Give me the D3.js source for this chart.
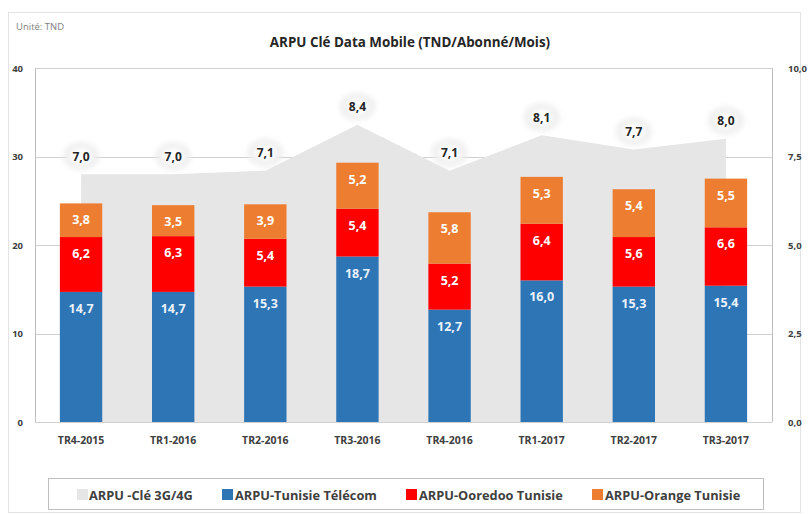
<!DOCTYPE html>
<html>
<head>
<meta charset="utf-8">
<script src="https://cdn.jsdelivr.net/npm/d3@7/dist/d3.min.js"></script>
<style>
  html, body { margin: 0; padding: 0; background: #ffffff; }
  svg { display: block; }
  text { font-family: "Open Sans", Lato, sans-serif; }
</style>
</head>
<body>
<svg id="chart" width="809" height="514"></svg>
<script>
const categories = ["TR4-2015", "TR1-2016", "TR2-2016", "TR3-2016", "TR4-2016", "TR1-2017", "TR2-2017", "TR3-2017"];
const arpuCle = [7.0, 7.0, 7.1, 8.4, 7.1, 8.1, 7.7, 8.0];
const tunisieTelecom = [14.7, 14.7, 15.3, 18.7, 12.7, 16.0, 15.3, 15.4];
const ooredoo = [6.2, 6.3, 5.4, 5.4, 5.2, 6.4, 5.6, 6.6];
const orange = [3.8, 3.5, 3.9, 5.2, 5.8, 5.3, 5.4, 5.5];
const leftTicks = [0, 10, 20, 30, 40];
const rightTicks = [0, 2.5, 5, 7.5, 10];
const seriesNames = ["ARPU -Clé 3G/4G", "ARPU-Tunisie Télécom", "ARPU-Ooredoo Tunisie", "ARPU-Orange Tunisie"];
const title = "ARPU Clé Data Mobile (TND/Abonné/Mois)";
const unitLabel = "Unité: TND";

const colors = { area: "#e6e6e6", tt: "#2e75b6", oo: "#ff0000", or: "#ed7d31" };
const fmt = v => d3.format(".1f")(v).replace(".", ",");

const svg = d3.select("#chart");
const margin = { left: 35, right: 772, top: 68, bottom: 422 };

const defs = svg.append("defs");
const f = defs.append("filter").attr("id", "soft").attr("x", "-50%").attr("y", "-50%").attr("width", "200%").attr("height", "200%");
f.append("feGaussianBlur").attr("stdDeviation", 3);

svg.append("rect").attr("x", 8.5).attr("y", 12.5).attr("width", 792).attr("height", 500)
  .attr("fill", "none").attr("stroke", "#e3e3e3");

svg.append("text").attr("x", 16).attr("y", 30).attr("font-size", 9.5).attr("fill", "#808080").text(unitLabel);
svg.append("text").attr("x", 410).attr("y", 47).attr("text-anchor", "middle")
  .attr("font-size", 13.4).attr("font-weight", "bold").attr("fill", "#262626").text(title);

const x = d3.scaleBand().domain(categories).range([margin.left, margin.right])
  .paddingInner(0.54).paddingOuter(0.27);
const y = d3.scaleLinear().domain([0, 40]).range([margin.bottom, margin.top]);
const y2 = d3.scaleLinear().domain([0, 10]).range([margin.bottom, margin.top]);

svg.append("g").selectAll("line").data(leftTicks).join("line")
  .attr("x1", margin.left).attr("x2", margin.right)
  .attr("y1", d => Math.round(y(d)) + 0.5).attr("y2", d => Math.round(y(d)) + 0.5)
  .attr("stroke", "#d0d0d0").attr("stroke-width", 1);

const cx = d => x(d) + x.bandwidth() / 2;
const area = d3.area()
  .x((d, i) => cx(categories[i]))
  .y0(y2(0)).y1(d => y2(d));
svg.append("path").datum(arpuCle).attr("d", area).attr("fill", colors.area);

svg.append("line").attr("x1", margin.left + 0.5).attr("x2", margin.left + 0.5)
  .attr("y1", margin.top).attr("y2", margin.bottom).attr("stroke", "#bfbfbf");
svg.append("line").attr("x1", margin.right + 0.5).attr("x2", margin.right + 0.5)
  .attr("y1", margin.top).attr("y2", margin.bottom).attr("stroke", "#bfbfbf");

const rows = categories.map((c, i) => ({ cat: c, tt: tunisieTelecom[i], oo: ooredoo[i], or: orange[i] }));
const keys = ["tt", "oo", "or"];
const stack = d3.stack().keys(keys)(rows);
const gBars = svg.append("g");
stack.forEach(layer => {
  gBars.append("g").attr("fill", colors[layer.key]).selectAll("rect").data(layer).join("rect")
    .attr("x", d => x(d.data.cat)).attr("width", x.bandwidth())
    .attr("y", d => y(d[1])).attr("height", d => y(d[0]) - y(d[1]));
});
stack.forEach(layer => {
  gBars.append("g").selectAll("text").data(layer).join("text")
    .attr("x", d => cx(d.data.cat)).attr("y", d => y(d[1]) + 21)
    .attr("text-anchor", "middle").attr("font-size", 12.5).attr("font-weight", "bold")
    .attr("fill", layer.key === "tt" ? "#eaf2fb" : "#ffffff")
    .text(d => fmt(d.data[layer.key]));
});

const gLab = svg.append("g");
gLab.selectAll("ellipse").data(arpuCle).join("ellipse")
  .attr("cx", (d, i) => cx(categories[i])).attr("cy", d => y2(d) - 18)
  .attr("rx", 17).attr("ry", 13).attr("fill", "#e9e9e9").attr("filter", "url(#soft)");
gLab.selectAll("ellipse.in").data(arpuCle).join("ellipse").attr("class", "in")
  .attr("cx", (d, i) => cx(categories[i])).attr("cy", d => y2(d) - 18)
  .attr("rx", 12).attr("ry", 9).attr("fill", "#ffffff").attr("filter", "url(#soft)");
gLab.selectAll("text").data(arpuCle).join("text")
  .attr("x", (d, i) => cx(categories[i])).attr("y", d => y2(d) - 13.5)
  .attr("text-anchor", "middle").attr("font-size", 12).attr("font-weight", "bold")
  .attr("fill", "#262626").text(d => fmt(d));

svg.append("g").selectAll("text").data(leftTicks).join("text")
  .attr("x", 23).attr("y", d => y(d) + 3.5).attr("text-anchor", "end")
  .attr("font-size", 9.5).attr("font-weight", "bold").attr("fill", "#404040").text(d => d);
svg.append("g").selectAll("text").data(rightTicks).join("text")
  .attr("x", 788).attr("y", d => y2(d) + 3.5).attr("text-anchor", "start")
  .attr("font-size", 9.5).attr("font-weight", "bold").attr("fill", "#404040").text(d => fmt(d));
svg.append("g").selectAll("text").data(categories).join("text")
  .attr("x", d => cx(d)).attr("y", 444).attr("text-anchor", "middle")
  .attr("font-size", 10.5).attr("font-weight", "bold").attr("fill", "#404040").text(d => d);

svg.append("rect").attr("x", 48.5).attr("y", 478.5).attr("width", 715).attr("height", 31)
  .attr("fill", "#ffffff").attr("stroke", "#bfbfbf");
const legendColors = [colors.area, colors.tt, colors.oo, colors.or];
const legendX = [77, 222, 406, 592];
const gLeg = svg.append("g");
seriesNames.forEach((n, i) => {
  gLeg.append("rect").attr("x", legendX[i]).attr("y", 489).attr("width", 11).attr("height", 11)
    .attr("fill", legendColors[i]);
  gLeg.append("text").attr("x", legendX[i] + (i === 0 ? 12 : 13)).attr("y", 499.5)
    .attr("font-size", 12.8).attr("font-weight", "bold").attr("fill", "#404040").text(n);
});
</script>
</body>
</html>
